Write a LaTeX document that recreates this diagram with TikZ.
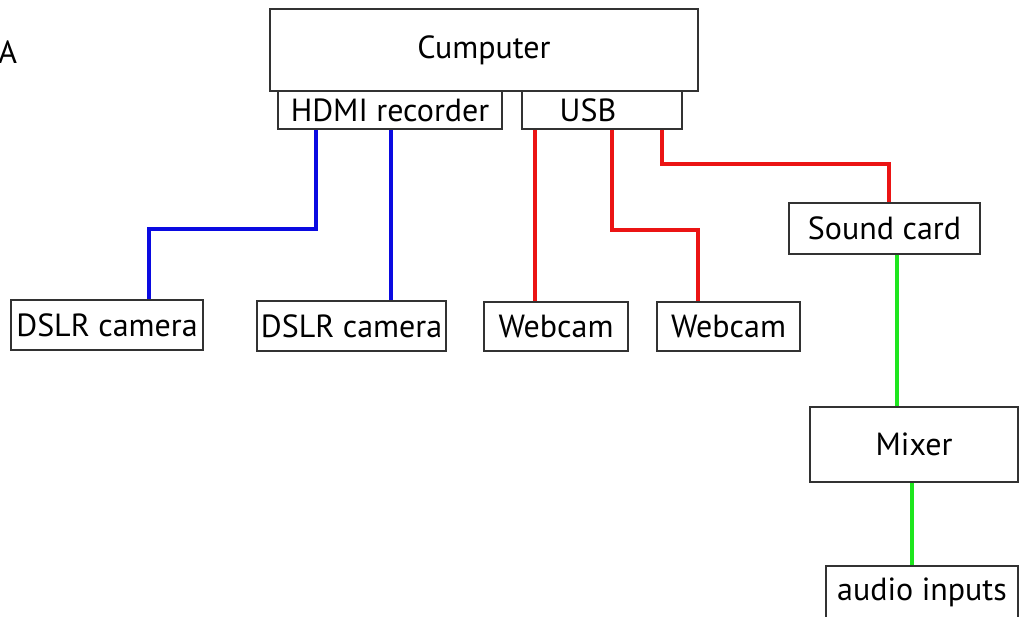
\documentclass[tikz,border=0pt]{standalone}
\usepackage{fontspec}
\setmainfont{PT Sans}
\definecolor{wblue}{RGB}{10,10,225}
\definecolor{wred}{RGB}{235,20,20}
\definecolor{wgreen}{RGB}{30,230,30}
\definecolor{boxline}{RGB}{50,50,50}
\tikzset{
  box/.style={draw=boxline, line width=1.1pt, rectangle, inner sep=0pt, font=\fontsize{24}{28}\selectfont, fill=white},
  wire/.style={line width=3pt},
}
\begin{document}
\begin{tikzpicture}[x=0.75pt,y=-0.75pt]
\useasboundingbox (0,0) rectangle (1021,617);
\node[anchor=west, inner sep=0pt, font=\fontsize{24}{28}\selectfont] (lbl) at (-2,52) {A};
\node[box, minimum width=321pt, minimum height=61.5pt] (comp) at (484,50) {Cumputer};
\node[box, minimum width=168pt, minimum height=28.5pt] (hdmi) at (390,110) {HDMI recorder};
\node[box, minimum width=120pt, minimum height=28.5pt] (usb) at (602,110) {USB\hspace*{21pt}};
\node[box, minimum width=144pt, minimum height=37.5pt] (dslr1) at (107,325) {DSLR camera};
\node[box, minimum width=141.75pt, minimum height=37.5pt] (dslr2) at (351.5,326) {DSLR camera};
\node[box, minimum width=108pt, minimum height=36.75pt] (web1) at (556,326.5) {Webcam};
\node[box, minimum width=107.25pt, minimum height=36.75pt] (web2) at (728.5,326.5) {Webcam};
\node[box, minimum width=143.25pt, minimum height=38.25pt] (sound) at (884.5,228.5) {Sound card};
\node[box, minimum width=156pt, minimum height=56.25pt] (mixer) at (914,444.5) {Mixer};
\node[box, minimum width=144pt, minimum height=39pt] (audio) at (922,592) {audio inputs};
\draw[wire, wblue] ([xshift=-55.5pt]hdmi.south) -- ++(0,99) -| ([xshift=31.5pt]dslr1.north);
\draw[wire, wblue] ([xshift=0.75pt]hdmi.south) -- ([xshift=0.75pt]hdmi.south |- dslr2.north);
\draw[wire, wred] ([xshift=-50.25pt]usb.south) -- ([xshift=-50.25pt]usb.south |- web1.north);
\draw[wire, wred] ([xshift=7.5pt]usb.south) -- ++(0,100) -| ([xshift=-22.9pt]web2.north);
\draw[wire, wred] ([xshift=45pt]usb.south) -- ++(0,34) -| ([xshift=3.4pt]sound.north);
\draw[wire, wgreen] ([xshift=9.4pt]sound.south) -- ([xshift=9.4pt]sound.south |- mixer.north);
\draw[wire, wgreen] ([xshift=-1.5pt]mixer.south) -- ([xshift=-1.5pt]mixer.south |- audio.north);
\end{tikzpicture}
\end{document}
